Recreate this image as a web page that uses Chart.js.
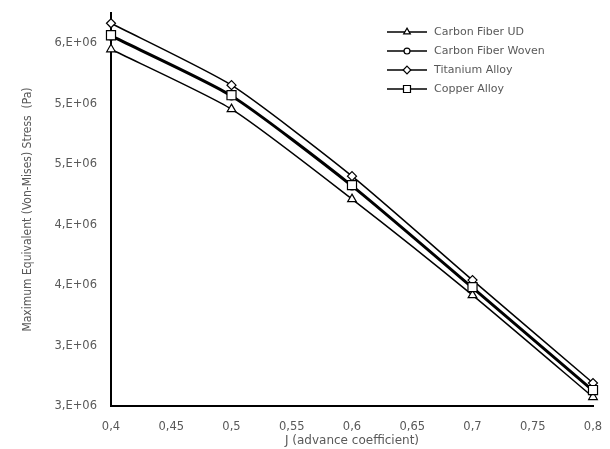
<!DOCTYPE html>
<html>
<head>
<meta charset="utf-8">
<script src="https://cdn.jsdelivr.net/npm/chart.js@4/dist/chart.umd.min.js"></script>
<style>
html,body{margin:0;padding:0;background:#fff;}
#wrap{width:610px;height:449px;position:relative;}
</style>
</head>
<body>
<div id="wrap"><canvas id="c" width="610" height="449"></canvas></div>
<script>
// ---- data ----
const categories = [0.4, 0.5, 0.6, 0.7, 0.8];
const carbonFiberUD    = [5.450e6, 4.955e6, 4.211e6, 3.417e6, 2.574e6];
const carbonFiberWoven = [5.556e6, 5.060e6, 4.316e6, 3.473e6, 2.622e6];
const titaniumAlloy    = [5.665e6, 5.153e6, 4.401e6, 3.541e6, 2.690e6];
const copperAlloy      = [5.566e6, 5.070e6, 4.326e6, 3.483e6, 2.632e6];
const seriesNames = ['Carbon Fiber UD', 'Carbon Fiber Woven', 'Titanium Alloy', 'Copper Alloy'];
const xTickValues = [0.4, 0.45, 0.5, 0.55, 0.6, 0.65, 0.7, 0.75, 0.8];
const xTickLabels = ['0,4', '0,45', '0,5', '0,55', '0,6', '0,65', '0,7', '0,75', '0,8'];
const yTickValues = [2.5e6, 3.0e6, 3.5e6, 4.0e6, 4.5e6, 5.0e6, 5.5e6];
const yTickLabels = ['3,E+06', '3,E+06', '4,E+06', '4,E+06', '5,E+06', '5,E+06', '6,E+06'];

const toPts = arr => categories.map((x, i) => ({x: x, y: arr[i]}));
const txtColor = '#595959';

function mk(label, arr, style, radius, lw, order) {
  return {
    label: label,
    data: toPts(arr),
    borderColor: '#000',
    borderWidth: lw,
    pointStyle: style,
    pointRadius: radius,
    pointBorderWidth: 1.2,
    pointBackgroundColor: '#fff',
    pointBorderColor: '#000',
    tension: 0.2,
    fill: false,
    clip: false,
    order: order
  };
}

const datasets = [
  mk(seriesNames[0], carbonFiberUD, 'triangle', 5, 1.5, 1),
  mk(seriesNames[1], carbonFiberWoven, 'circle', 3.5, 2, 1),
  mk(seriesNames[2], titaniumAlloy, 'rectRot', 4.5, 1.5, 1),
  mk(seriesNames[3], copperAlloy, 'rect', 6.4, 2, 0)
];

function drawMarker(ctx, style, r, x, y) {
  ctx.save();
  ctx.beginPath();
  if (style === 'circle') {
    ctx.arc(x, y, r, 0, Math.PI * 2);
  } else if (style === 'rect') {
    const s = r * Math.SQRT1_2;
    ctx.rect(x - s, y - s, 2 * s, 2 * s);
  } else if (style === 'rectRot') {
    ctx.moveTo(x, y - r); ctx.lineTo(x + r, y); ctx.lineTo(x, y + r); ctx.lineTo(x - r, y); ctx.closePath();
  } else if (style === 'triangle') {
    ctx.moveTo(x, y - r);
    ctx.lineTo(x + r * Math.cos(Math.PI / 6), y + r / 2);
    ctx.lineTo(x - r * Math.cos(Math.PI / 6), y + r / 2);
    ctx.closePath();
  }
  ctx.fillStyle = '#fff';
  ctx.fill();
  ctx.lineWidth = 1.2;
  ctx.strokeStyle = '#000';
  ctx.stroke();
  ctx.restore();
}

const legendPlugin = {
  id: 'customLegend',
  afterDraw(chart) {
    const ctx = chart.ctx;
    const x0 = 387, x1 = 427, tx = 434, y0 = 32, dy = 19;
    chart.data.datasets.forEach((ds, i) => {
      const y = y0 + i * dy;
      ctx.save();
      ctx.strokeStyle = '#000';
      ctx.lineWidth = 1.5;
      ctx.beginPath(); ctx.moveTo(x0, y); ctx.lineTo(x1, y); ctx.stroke();
      drawMarker(ctx, ds.pointStyle, Math.min(ds.pointRadius, 4.5) * (ds.pointStyle === 'rect' ? 1.1 : 0.85), (x0 + x1) / 2, y);
      ctx.fillStyle = txtColor;
      ctx.font = '11px "DejaVu Sans", Verdana, sans-serif';
      ctx.textBaseline = 'middle';
      ctx.textAlign = 'left';
      ctx.fillText(ds.label, tx, y);
      ctx.restore();
    });
  }
};

new Chart(document.getElementById('c'), {
  type: 'line',
  data: { datasets: datasets },
  options: {
    responsive: false,
    animation: false,
    devicePixelRatio: 1,
    layout: { padding: { top: 13, right: 17, left: 0, bottom: 0 } },
    plugins: { legend: { display: false }, tooltip: { enabled: false } },
    scales: {
      x: {
        type: 'linear',
        min: 0.4, max: 0.8,
        afterBuildTicks: s => { s.ticks = xTickValues.map(v => ({value: v})); },
        afterFit: s => { s.height = 43; s.paddingLeft = 0; s.paddingRight = 0; },
        grid: { display: false, drawTicks: false },
        border: { display: true, color: '#000', width: 2 },
        ticks: {
          callback: (v, i) => xTickLabels[i],
          color: txtColor,
          font: { family: '"DejaVu Sans", Verdana, sans-serif', size: 11.5 },
          padding: 14,
          maxRotation: 0,
          autoSkip: false
        },
        title: {
          display: true,
          text: 'J (advance coefficient)',
          color: txtColor,
          font: { family: '"DejaVu Sans", Verdana, sans-serif', size: 12 },
          padding: { top: 0, bottom: 1 }
        }
      },
      y: {
        type: 'linear',
        min: 2.5e6, max: 5.75e6,
        afterBuildTicks: s => { s.ticks = yTickValues.map(v => ({value: v})); },
        afterFit: s => { s.width = 111; s.paddingTop = 0; s.paddingBottom = 0; },
        grid: { display: false, drawTicks: false },
        border: { display: true, color: '#000', width: 2 },
        ticks: {
          callback: (v, i) => yTickLabels[i],
          color: txtColor,
          font: { family: '"DejaVu Sans", Verdana, sans-serif', size: 11.5 },
          padding: 14
        },
        title: {
          display: true,
          text: 'Maximum Equivalent (Von-Mises) Stress  (Pa)',
          color: txtColor,
          font: { family: '"Liberation Sans Narrow", "DejaVu Sans Condensed", "Liberation Sans", sans-serif', size: 12 },
          padding: { top: 21, bottom: 0 }
        }
      }
    }
  },
  plugins: [legendPlugin]
});
</script>
</body>
</html>
